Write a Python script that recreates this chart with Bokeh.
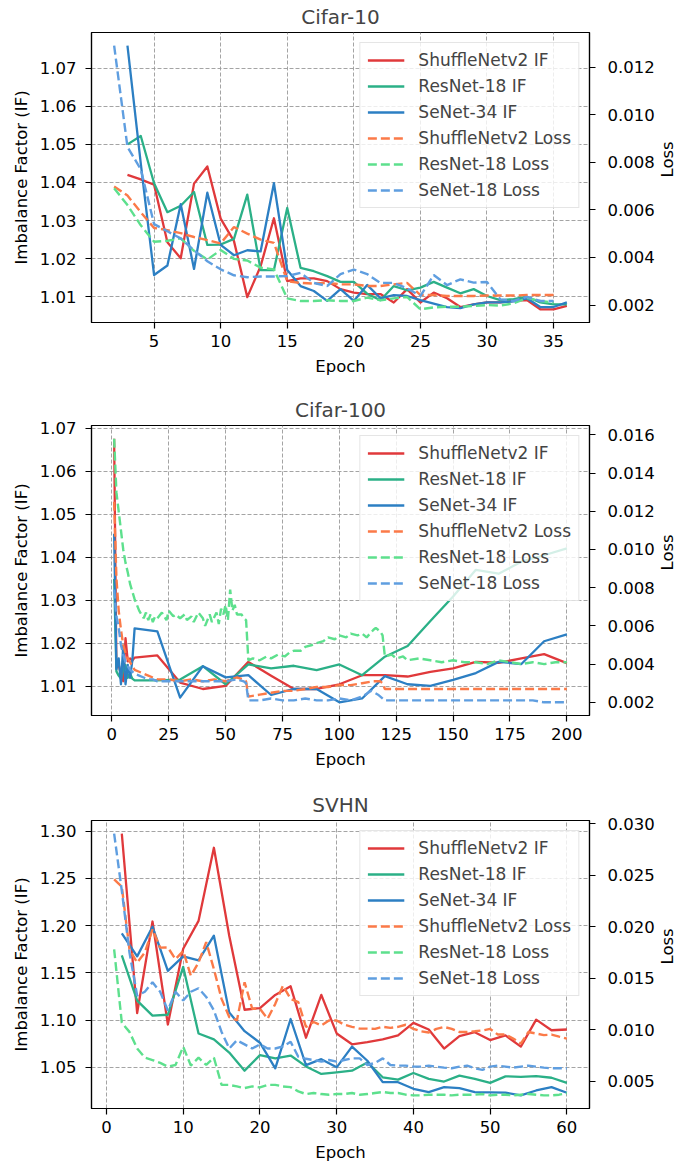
import math
from bokeh.plotting import figure
from bokeh.models import Range1d, LinearAxis, FixedTicker, NumeralTickFormatter, Legend, LegendItem
from bokeh.layouts import column
from bokeh.embed import file_html
from bokeh.resources import INLINE

# ---------------- Cifar-10 ----------------
c10_if_epochs = list(range(3, 37))
c10_shuffle_if = [1.0420, 1.0408, 1.0394, 1.0243, 1.0201, 1.0397, 1.0442, 1.0305, 1.0246, 1.0099, 1.0180, 1.0306,
                  1.0141, 1.0148, 1.0148, 1.0141, 1.0120, 1.0111, 1.0107, 1.0107, 1.0085, 1.0120, 1.0085, 1.0111,
                  1.0096, 1.0073, 1.0080, 1.0085, 1.0085, 1.0089, 1.0091, 1.0067, 1.0067, 1.0076]
c10_resnet_if = [1.0500, 1.0522, 1.0398, 1.0322, 1.0339, 1.0375, 1.0236, 1.0237, 1.0252, 1.0368, 1.0170, 1.0170,
                 1.0333, 1.0176, 1.0167, 1.0154, 1.0139, 1.0139, 1.0108, 1.0091, 1.0128, 1.0117, 1.0124, 1.0139,
                 1.0124, 1.0109, 1.0120, 1.0102, 1.0091, 1.0094, 1.0100, 1.0085, 1.0080, 1.0080]
c10_senet_if = [1.0759, 1.0450, 1.0157, 1.0182, 1.0343, 1.0173, 1.0373, 1.0236, 1.0209, 1.0222, 1.0219, 1.0398,
                1.0170, 1.0128, 1.0115, 1.0089, 1.0120, 1.0089, 1.0131, 1.0096, 1.0104, 1.0102, 1.0091, 1.0082,
                1.0073, 1.0070, 1.0080, 1.0085, 1.0085, 1.0088, 1.0096, 1.0073, 1.0073, 1.0085]
c10_loss_epochs = list(range(2, 36))
c10_shuffle_loss = [0.00698, 0.00660, 0.00590, 0.00524, 0.00515, 0.00502, 0.00486, 0.00473, 0.00459, 0.00528,
                    0.00500, 0.00475, 0.00461, 0.00300, 0.00293, 0.00290, 0.00293, 0.00287, 0.00287, 0.00280,
                    0.00280, 0.00287, 0.00293, 0.00242, 0.00242, 0.00238, 0.00238, 0.00238, 0.00240, 0.00240,
                    0.00240, 0.00242, 0.00242, 0.00242]
c10_resnet_loss = [0.00691, 0.00620, 0.00535, 0.00466, 0.00470, 0.00480, 0.00428, 0.00391, 0.00431, 0.00394,
                   0.00387, 0.00357, 0.00350, 0.00228, 0.00217, 0.00217, 0.00220, 0.00217, 0.00217, 0.00231,
                   0.00220, 0.00228, 0.00234, 0.00182, 0.00190, 0.00193, 0.00193, 0.00196, 0.00200, 0.00198,
                   0.00207, 0.00230, 0.00217, 0.00210]
c10_senet_loss = [0.01290, 0.00865, 0.00770, 0.00540, 0.00510, 0.00480, 0.00430, 0.00384, 0.00350, 0.00325,
                  0.00317, 0.00320, 0.00320, 0.00322, 0.00335, 0.00293, 0.00280, 0.00330, 0.00349, 0.00330,
                  0.00293, 0.00293, 0.00270, 0.00238, 0.00326, 0.00284, 0.00308, 0.00294, 0.00297, 0.00224,
                  0.00217, 0.00234, 0.00217, 0.00217]

# ---------------- Cifar-100 ----------------
c100_if_epochs = [1, 2, 3, 4, 5, 6, 7, 8, 9, 10, 20, 30, 40, 50, 60, 70, 80, 90, 100, 110, 120, 130, 140, 150,
                  160, 170, 180, 190, 200]
c100_shuffle_if = [1.0676, 1.0143, 1.0150, 1.0128, 1.0112, 1.0212, 1.0158, 1.0165, 1.0160, 1.0167, 1.0172,
                   1.0109, 1.0094, 1.0101, 1.0157, 1.0125, 1.0094, 1.0094, 1.0105, 1.0126, 1.0126, 1.0123,
                   1.0134, 1.0142, 1.0157, 1.0155, 1.0165, 1.0175, 1.0154]
c100_resnet_if = [1.0350, 1.0135, 1.0125, 1.0118, 1.0140, 1.0150, 1.0120, 1.0130, 1.0118, 1.0114, 1.0114,
                  1.0116, 1.0147, 1.0105, 1.0151, 1.0142, 1.0148, 1.0138, 1.0151, 1.0126, 1.0169, 1.0194,
                  1.0252, 1.0309, 1.0371, 1.0362, 1.0390, 1.0405, 1.0421]
c100_senet_if = [1.0455, 1.0140, 1.0165, 1.0105, 1.0195, 1.0105, 1.0150, 1.0120, 1.0160, 1.0235, 1.0228,
                 1.0074, 1.0147, 1.0121, 1.0126, 1.0080, 1.0094, 1.0094, 1.0063, 1.0072, 1.0124, 1.0105,
                 1.0101, 1.0115, 1.0131, 1.0157, 1.0152, 1.0205, 1.0221]
c100_shuffle_loss_epochs = [1, 2, 3, 4, 5, 6, 7, 8, 9, 10, 12, 14, 16, 18, 20, 25, 30, 35, 40, 45, 50, 55, 58, 59,
                            60, 65, 70, 75, 80, 85, 90, 95, 100, 105, 110, 115, 118, 119, 120, 130, 140, 150,
                            160, 170, 180, 190, 200]
c100_shuffle_loss = [0.0125, 0.0085, 0.0068, 0.0058, 0.0050, 0.0046, 0.0043, 0.0041, 0.0039, 0.0037, 0.0036,
                     0.0035, 0.0034, 0.0033, 0.0032, 0.0032, 0.0031, 0.0032, 0.0031, 0.0032, 0.0031, 0.0033,
                     0.0032, 0.0031, 0.0023, 0.0024, 0.0025, 0.0026, 0.0026, 0.0027, 0.0028, 0.0028, 0.0029,
                     0.0029, 0.0030, 0.0031, 0.0031, 0.0030, 0.0027, 0.0027, 0.0027, 0.0027, 0.0027, 0.0027,
                     0.0027, 0.0027, 0.0027]
c100_resnet_loss_epochs = [1, 2, 3, 4, 5, 6, 7, 8, 9, 10, 11, 12, 13, 14, 15, 16, 17, 18, 19, 20, 22, 24, 25, 27,
                           28, 30, 32, 33, 35, 36, 38, 40, 41, 43, 44, 46, 47, 48, 49, 50, 51, 52, 53, 54, 55,
                           57, 58, 59, 60, 62, 65, 68, 70, 73, 76, 78, 80, 83, 85, 88, 90, 93, 95, 98, 100, 103,
                           105, 108, 110, 112, 115, 116, 118, 119, 120, 123, 125, 128, 130, 135, 140, 145, 150,
                           155, 160, 165, 170, 175, 180, 185, 190, 195, 200]
c100_resnet_loss = [0.0158, 0.0130, 0.0120, 0.0110, 0.0100, 0.0093, 0.0088, 0.0082, 0.0078, 0.0074, 0.0071,
                    0.0068, 0.0066, 0.0064, 0.0067, 0.0063, 0.0066, 0.0062, 0.0065, 0.0064, 0.0067, 0.0063,
                    0.0068, 0.0065, 0.0066, 0.0064, 0.0066, 0.0063, 0.0065, 0.0062, 0.0067, 0.0064, 0.0060,
                    0.0066, 0.0062, 0.0067, 0.0061, 0.0069, 0.0066, 0.0071, 0.0063, 0.0079, 0.0068, 0.0071,
                    0.0066, 0.0066, 0.0064, 0.0063, 0.0042, 0.0043, 0.0042, 0.0044, 0.0043, 0.0045, 0.0044,
                    0.0046, 0.0047, 0.0047, 0.0049, 0.0050, 0.0051, 0.0052, 0.0054, 0.0053, 0.0055, 0.0054,
                    0.0056, 0.0055, 0.0056, 0.0054, 0.0058, 0.0059, 0.0057, 0.0055, 0.0044, 0.0045, 0.0043,
                    0.0044, 0.0042, 0.0043, 0.0042, 0.0041, 0.0042, 0.0041, 0.0041, 0.0040, 0.0042, 0.0041,
                    0.0040, 0.0041, 0.0040, 0.0041, 0.0041]
c100_senet_loss_epochs = [1, 2, 3, 4, 5, 6, 7, 8, 9, 10, 12, 14, 16, 18, 20, 25, 30, 35, 40, 45, 50, 55, 58, 59,
                          60, 65, 70, 75, 80, 85, 90, 95, 100, 105, 110, 114, 117, 120, 130, 140, 150, 160, 170,
                          180, 185, 190, 195, 200]
c100_senet_loss = [0.0079, 0.0065, 0.0059, 0.0050, 0.0045, 0.0041, 0.0039, 0.0037, 0.0036, 0.0035, 0.0034,
                   0.0033, 0.0032, 0.0032, 0.0031, 0.0031, 0.0031, 0.0031, 0.0031, 0.0031, 0.0031, 0.0032,
                   0.0031, 0.0030, 0.0021, 0.0021, 0.0022, 0.0021, 0.0021, 0.0022, 0.0021, 0.0021, 0.0022,
                   0.0021, 0.0023, 0.0026, 0.0024, 0.0021, 0.0021, 0.0021, 0.0021, 0.0021, 0.0021, 0.0021,
                   0.0021, 0.0020, 0.0020, 0.0020]

# ---------------- SVHN ----------------
svhn_if_epochs = list(range(2, 61, 2))
svhn_shuffle_if = [1.2975, 1.1075, 1.2044, 1.0953, 1.1755, 1.2051, 1.2825, 1.1894, 1.1110, 1.1128, 1.1267,
                   1.1358, 1.0814, 1.1267, 1.0859, 1.0744, 1.0768, 1.0796, 1.0838, 1.0971, 1.0901, 1.0699,
                   1.0831, 1.0872, 1.0789, 1.0838, 1.0720, 1.1005, 1.0893, 1.0901]
svhn_resnet_if = [1.1685, 1.1207, 1.1047, 1.1057, 1.1563, 1.0859, 1.0796, 1.0657, 1.0465, 1.0629, 1.0594,
                  1.0625, 1.0510, 1.0430, 1.0448, 1.0465, 1.0552, 1.0395, 1.0370, 1.0440, 1.0378, 1.0350,
                  1.0412, 1.0378, 1.0336, 1.0405, 1.0400, 1.0408, 1.0390, 1.0336]
svhn_senet_if = [1.1919, 1.1675, 1.1989, 1.1521, 1.1675, 1.1633, 1.1894, 1.1082, 1.0883, 1.0761, 1.0490,
                 1.1012, 1.0524, 1.0587, 1.0500, 1.0720, 1.0570, 1.0343, 1.0343, 1.0273, 1.0238, 1.0291,
                 1.0280, 1.0238, 1.0235, 1.0232, 1.0203, 1.0255, 1.0291, 1.0231]
svhn_loss_epochs = list(range(1, 61))
svhn_shuffle_loss = [0.0246, 0.0239, 0.0178, 0.01654, 0.0175, 0.01974, 0.01798, 0.0180, 0.01686, 0.01765,
                     0.01525, 0.01654, 0.01852, 0.0159, 0.01301, 0.01125, 0.01092, 0.01462, 0.01205, 0.01205,
                     0.01109, 0.01253, 0.01429, 0.01301, 0.01269, 0.01029, 0.01077, 0.01044, 0.01092, 0.01092,
                     0.0105, 0.0103, 0.01013, 0.01013, 0.0101, 0.0103, 0.0102, 0.0103, 0.0105, 0.0101,
                     0.00987, 0.00975, 0.0101, 0.01029, 0.0101, 0.0098, 0.0098, 0.00987, 0.00995, 0.0101,
                     0.00955, 0.00955, 0.00916, 0.00868, 0.0098, 0.00965, 0.0095, 0.00955, 0.00935, 0.00916]
svhn_resnet_loss = [0.01782, 0.0107, 0.00981, 0.0082, 0.00731, 0.00708, 0.0068, 0.00644, 0.0066, 0.00837,
                    0.00654, 0.00731, 0.0066, 0.00731, 0.00467, 0.00467, 0.00452, 0.00436, 0.00452, 0.00442,
                    0.00467, 0.00467, 0.00452, 0.00445, 0.00404, 0.00378, 0.00388, 0.00378, 0.00372, 0.00378,
                    0.00378, 0.00388, 0.00372, 0.00378, 0.00388, 0.00398, 0.00388, 0.00388, 0.00372, 0.00365,
                    0.00365, 0.00372, 0.00372, 0.00372, 0.00365, 0.00372, 0.00372, 0.00372, 0.00378, 0.00365,
                    0.00372, 0.00372, 0.00365, 0.00372, 0.00378, 0.00372, 0.00365, 0.00365, 0.00372, 0.00388]
svhn_senet_loss = [0.02904, 0.0235, 0.0175, 0.01333, 0.0137, 0.01462, 0.0137, 0.01189, 0.0137, 0.01285,
                   0.0137, 0.01404, 0.0132, 0.01189, 0.00981, 0.0082, 0.0090, 0.0086, 0.0082, 0.0086,
                   0.0082, 0.0082, 0.0084, 0.00885, 0.0074, 0.0072, 0.00708, 0.00692, 0.00708, 0.00692,
                   0.00708, 0.00724, 0.00724, 0.0066, 0.0068, 0.00724, 0.0066, 0.00654, 0.00654, 0.00644,
                   0.00644, 0.00654, 0.00644, 0.00634, 0.00628, 0.00644, 0.00654, 0.00628, 0.00612, 0.00644,
                   0.00654, 0.00644, 0.00634, 0.00644, 0.00654, 0.00644, 0.00634, 0.00628, 0.00628, 0.00628]

# ---------------- ticks ----------------
c10_x_ticks = [5, 10, 15, 20, 25, 30, 35]
c10_if_ticks = [1.01, 1.02, 1.03, 1.04, 1.05, 1.06, 1.07]
c10_loss_ticks = [0.002, 0.004, 0.006, 0.008, 0.010, 0.012]
c100_x_ticks = [0, 25, 50, 75, 100, 125, 150, 175, 200]
c100_if_ticks = [1.01, 1.02, 1.03, 1.04, 1.05, 1.06, 1.07]
c100_loss_ticks = [0.002, 0.004, 0.006, 0.008, 0.010, 0.012, 0.014, 0.016]
svhn_x_ticks = [0, 10, 20, 30, 40, 50, 60]
svhn_if_ticks = [1.05, 1.10, 1.15, 1.20, 1.25, 1.30]
svhn_loss_ticks = [0.005, 0.010, 0.015, 0.020, 0.025, 0.030]

labels_if = ["ShuffleNetv2 IF", "ResNet-18 IF", "SeNet-34 IF"]
labels_loss = ["ShuffleNetv2 Loss", "ResNet-18 Loss", "SeNet-18 Loss"]
colors_if = ["#e0393b", "#2bb087", "#2c7fc3"]
colors_loss = ["#fb7a48", "#5de08d", "#5f9ee0"]

FONT = "DejaVu Sans"
FS = "16.5px"
FRAME_W = 498
BORDER_L = 91
BORDER_R = 106
BORDER_T = 30


def pad(lo, hi, f=0.05):
    d = (hi - lo) * f
    return lo - d, hi + d


def style_axis(ax, ticks, fmt, label, standoff, label_standoff):
    ax.ticker = FixedTicker(ticks=ticks)
    ax.formatter = NumeralTickFormatter(format=fmt)
    ax.axis_label = label
    ax.axis_label_text_font = FONT
    ax.axis_label_text_font_size = FS
    ax.axis_label_text_font_style = "normal"
    ax.axis_label_text_color = "black"
    ax.major_label_text_font = FONT
    ax.major_label_text_font_size = FS
    ax.major_label_text_color = "black"
    ax.major_tick_in = 0
    ax.major_tick_out = 6
    ax.major_tick_line_color = "black"
    ax.major_tick_line_width = 1.2
    ax.minor_tick_line_color = None
    ax.axis_line_color = "black"
    ax.axis_line_width = 1.2
    ax.major_label_standoff = standoff
    ax.axis_label_standoff = label_standoff


def panel(title, if_series, loss_series, xticks, ifticks, iffmt, lossticks, lossfmt, frame_h, bottom):
    allx = [v for xs, _ in if_series + loss_series for v in xs]
    ally = [v for _, ys in if_series for v in ys]
    alll = [v for _, ys in loss_series for v in ys]
    x0, x1 = pad(min(allx), max(allx))
    y0, y1 = pad(min(ally), max(ally))
    l0, l1 = pad(min(alll), max(alll))
    p = figure(width=BORDER_L + FRAME_W + BORDER_R, height=BORDER_T + frame_h + bottom,
               x_range=Range1d(x0, x1), y_range=Range1d(y0, y1),
               output_backend="svg", toolbar_location=None,
               min_border_left=BORDER_L, min_border_right=BORDER_R,
               min_border_top=BORDER_T, min_border_bottom=bottom)
    p.extra_y_ranges = {"loss": Range1d(l0, l1)}
    p.background_fill_color = "white"
    p.border_fill_color = "white"
    p.outline_line_color = "black"
    p.outline_line_width = 1.2
    p.title.text = title
    p.title.align = "center"
    p.title.vertical_align = "middle"
    p.title.text_font = FONT
    p.title.text_font_size = "20px"
    p.title.text_font_style = "normal"
    p.title.standoff = 6

    style_axis(p.xaxis[0], xticks, "0", "Epoch", 6, 7)
    style_axis(p.yaxis[0], ifticks, iffmt, "Imbalance Factor (IF)", 9, 6)
    ra = LinearAxis(y_range_name="loss")
    style_axis(ra, lossticks, lossfmt, "Loss", 12, 10)
    try:
        ra.axis_label_orientation = math.pi / 2
    except Exception:
        pass
    p.add_layout(ra, "right")

    for g in (p.xgrid[0], p.ygrid[0]):
        g.grid_line_color = "#9a9a9a"
        g.grid_line_dash = "4 2"
        g.grid_line_width = 0.9

    rs_if = []
    for (xs, ys), c in zip(if_series, colors_if):
        rs_if.append(p.line(xs, ys, line_color=c, line_width=2.3, line_join="round"))
    rs_loss = []
    for (xs, ys), c in zip(loss_series, colors_loss):
        rs_loss.append(p.line(xs, ys, line_color=c, line_width=2.4, line_dash="9 4",
                              y_range_name="loss"))
    items = [LegendItem(label=lab, renderers=[r]) for lab, r in zip(labels_if + labels_loss, rs_if + rs_loss)]
    leg = Legend(items=items, location="top_right", margin=10, padding=7, spacing=6,
                 glyph_width=37, glyph_height=20, label_height=20, label_standoff=14,
                 label_text_font=FONT, label_text_font_size="17px",
                 border_line_color="#cccccc", border_line_width=1.2,
                 background_fill_color="white", background_fill_alpha=0.8)
    p.add_layout(leg)
    return p


p1 = panel("Cifar-10",
           [(c10_if_epochs, c10_shuffle_if), (c10_if_epochs, c10_resnet_if), (c10_if_epochs, c10_senet_if)],
           [(c10_loss_epochs, c10_shuffle_loss), (c10_loss_epochs, c10_resnet_loss),
            (c10_loss_epochs, c10_senet_loss)],
           c10_x_ticks, c10_if_ticks, "0.00", c10_loss_ticks, "0.000", 292, 71)
p2 = panel("Cifar-100",
           [(c100_if_epochs, c100_shuffle_if), (c100_if_epochs, c100_resnet_if), (c100_if_epochs, c100_senet_if)],
           [(c100_shuffle_loss_epochs, c100_shuffle_loss), (c100_resnet_loss_epochs, c100_resnet_loss),
            (c100_senet_loss_epochs, c100_senet_loss)],
           c100_x_ticks, c100_if_ticks, "0.00", c100_loss_ticks, "0.000", 292, 73)
p3 = panel("SVHN",
           [(svhn_if_epochs, svhn_shuffle_if), (svhn_if_epochs, svhn_resnet_if), (svhn_if_epochs, svhn_senet_if)],
           [(svhn_loss_epochs, svhn_shuffle_loss), (svhn_loss_epochs, svhn_resnet_loss),
            (svhn_loss_epochs, svhn_senet_loss)],
           svhn_x_ticks, svhn_if_ticks, "0.00", svhn_loss_ticks, "0.000", 290, 56)

layout = column(p1, p2, p3, spacing=0)
open("out.html", "w").write(file_html(layout, INLINE))
